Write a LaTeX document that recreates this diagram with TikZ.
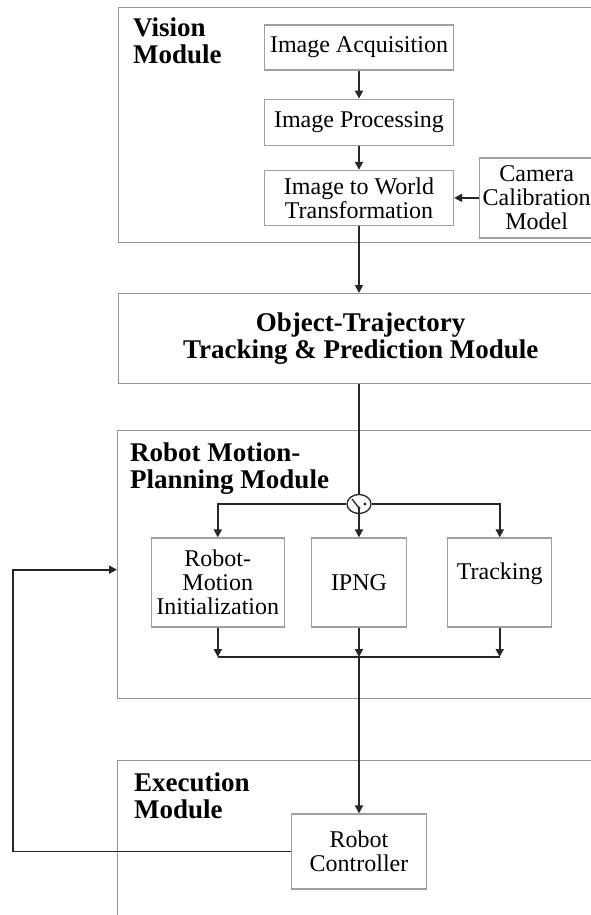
\documentclass[tikz,border=0pt]{standalone}
\usepackage{fontspec}
\setmainfont{Liberation Serif}
\usetikzlibrary{arrows.meta,positioning,shapes.geometric}

\begin{document}
\begin{tikzpicture}[
      x=1pt, y=-1pt,
      module/.style={
         rectangle,
         draw=gray!85,
         line width=1.3pt,
         anchor=north west,
         inner sep=0pt,
         minimum width=484pt},
      modlabel/.style={
         anchor=north west,
         align=left,
         inner sep=0pt,
         font=\fontsize{27}{27}\selectfont\bfseries},
      ibox/.style={
         rectangle,
         draw=gray!75,
         line width=1.2pt,
         fill=white,
         align=center,
         inner sep=0pt,
         font=\fontsize{24}{24}\selectfont},
      myarrow/.style={-{Triangle[length=8pt,width=8pt]},line width=1.8pt,draw=black!85},
      myline/.style={line width=1.8pt,draw=black!85},
      node distance=28pt and 25pt
      ]
      \useasboundingbox (0,0) rectangle (591,915);
      \clip (0,0) rectangle (591,915);

      % modules
      \node[module,minimum height=235pt] (vis) at (118,7) {};
      \node[module,minimum height=90pt,align=center,
            font=\fontsize{27}{27}\selectfont\bfseries] (otm) at (118,293)
            {Object-Trajectory\\Tracking \& Prediction Module};
      \node[module,minimum height=268pt] (plan) at (117,430) {};
      \node[module,minimum height=180pt] (exec) at (117,760) {};

      \node[modlabel] (vislbl) at ([xshift=15pt,yshift=-11pt]vis.north west) {Vision\\Module};
      \node[modlabel] (planlbl) at ([xshift=13pt,yshift=-13pt]plan.north west) {Robot Motion-\\Planning Module};
      \node[modlabel] (execlbl) at ([xshift=17pt,yshift=-13pt]exec.north west) {Execution\\Module};

      % vision module
      \node[ibox,minimum width=189pt,minimum height=45pt] (acq) at (359,47.5) {Image Acquisition};
      \node[ibox,minimum width=189pt,minimum height=46pt,below=28pt of acq] (proc) {Image Processing};
      \node[ibox,minimum width=189pt,minimum height=55pt,below=24pt of proc] (world) {Image to World\\Transformation};
      \node[ibox,minimum width=114pt,minimum height=80pt,right=of world] (cam) {Camera\\Calibration\\Model};

      % motion planning module
      \node[ellipse,draw=black!85,line width=1.3pt,minimum width=24pt,minimum height=19pt,
            inner sep=0pt] (sw) at (359,504) {};
      \coordinate (swpiv) at ([yshift=-4pt]sw.center);
      \fill[black!85] (swpiv) circle (1.6pt) ([xshift=6pt]sw.center) circle (1.6pt);
      \draw[line width=1.3pt,black!85] (swpiv) -- ([xshift=-7pt,yshift=5pt]sw.center);

      \node[ibox,minimum width=95pt,minimum height=89pt] (ipng) at (359,582.5) {IPNG};
      \node[ibox,minimum width=133pt,minimum height=89pt,left=26pt of ipng] (init) {Robot-\\Motion\\Initialization};
      \node[ibox,minimum width=104pt,minimum height=89pt,text depth=23pt,right=40pt of ipng] (trk) {Tracking};
      \coordinate (join) at (359,657);

      % execution module
      \node[ibox,minimum width=135pt,minimum height=75pt] (ctrl) at (359,851.5) {Robot\\Controller};
      \coordinate (fbx) at (13,848);

      % connectors
      \foreach \i/\j in {acq/proc, proc/world, cam/world}
         \draw[myarrow] (\i) -- (\j);
      \draw[myarrow] (world.south) -- (otm.north -| world.south);
      \draw[myline] (otm.south -| sw.north) -- (sw.north);
      \draw[myarrow] (sw.west) -| (init.north);
      \draw[myarrow] (sw.east) -| (trk.north);
      \draw[myarrow] (swpiv) -- (ipng.north);
      \foreach \b in {init,ipng,trk}
         \draw[myarrow] (\b.south) -- (\b.south |- join);
      \draw[myline] (init.south |- join) -- (trk.south |- join);
      \draw[myarrow] (join) -- (ctrl.north);
      \draw[myarrow] (ctrl.west) -- (ctrl.west -| fbx) |- ([yshift=-5pt]plan.west);
\end{tikzpicture}
\end{document}
